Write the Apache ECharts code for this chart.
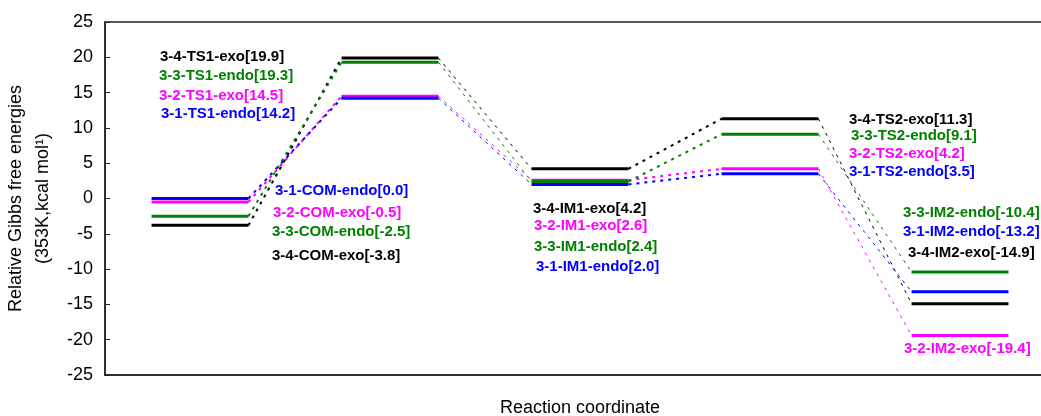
<!DOCTYPE html>
<html>
<head>
<meta charset="utf-8">
<script src="https://cdn.jsdelivr.net/npm/echarts@6/dist/echarts.min.js"></script>
<style>
html,body{margin:0;padding:0;background:#fff;}
#chart{width:1041px;height:416px;}
</style>
</head>
<body>
<div id="chart"></div>
<script>
// 反应阶段
var stages = ['COM', 'TS1', 'IM1', 'TS2', 'IM2'];
var yTicks = [-25, -20, -15, -10, -5, 0, 5, 10, 15, 20, 25];

// 各体系的相对吉布斯自由能 (kcal/mol)
var s34exo  = [-3.8, 19.9, 4.2, 11.3, -14.9];
var s32exo  = [-0.5, 14.5, 2.6, 4.2, -19.4];
var s33endo = [-2.5, 19.3, 2.4, 9.1, -10.4];
var s31endo = [0.0, 14.2, 2.0, 3.5, -13.2];

var seriesNames = ['3-4', '3-2', '3-3', '3-1'];
var isomers = ['exo', 'exo', 'endo', 'endo'];
var seriesVals = [s34exo, s32exo, s33endo, s31endo];
var colors = ['#000000', '#ff00ff', '#008000', '#0000ff'];

// 标签位置（像素，左边缘 / 中线），按 stage -> series 顺序
var labelPos = [
	[[272,257],[273,214],[272,233],[275,192]],
	[[160,58],[159,97],[159,77],[161,115]],
	[[533,210],[534,227],[534,248],[536,268]],
	[[849,121],[849,155],[851,137],[849,173]],
	[[908,254],[904,350],[903,214],[903,233]]
];
var connWidth = [2, 1, 2, 1];
var halfW = 0.255;

var myChart = echarts.init(document.getElementById('chart'));

function levelRender(params, api){
	var s = api.value(0), v = api.value(1);
	var p1 = api.coord([s - halfW, v]);
	var p2 = api.coord([s + halfW, v]);
	return {
		type:'line',
		shape:{x1:p1[0], y1:p1[1], x2:p2[0], y2:p2[1]},
		style:{stroke:api.visual('color'), lineWidth:3}
	};
}
function connRender(params, api){
	var s = api.value(0), v = api.value(1), nv = api.value(2);
	var p1 = api.coord([s + halfW, v]);
	var p2 = api.coord([s + 1 - halfW, nv]);
	return {
		type:'line',
		shape:{x1:p1[0], y1:p1[1], x2:p2[0], y2:p2[1]},
		style:{stroke:api.visual('color'), lineWidth:connWidth[s], lineDash:[3,5]}
	};
}

var series = [];
var graphics = [];
for(var i=0;i<seriesVals.length;i++){
	var vals = seriesVals[i];
	var lv = [], cn = [];
	for(var k=0;k<vals.length;k++){
		lv.push([k, vals[k]]);
		if(k < vals.length-1){
			cn.push([k, vals[k], vals[k+1]]);
		}
		graphics.push({
			type:'text',
			left:labelPos[k][i][0],
			top:labelPos[k][i][1]-9,
			style:{
				text:seriesNames[i]+'-'+stages[k]+'-'+isomers[i]+'['+vals[k].toFixed(1)+']',
				fill:colors[i],
				font:'bold 15px "Liberation Sans", Arial, sans-serif'
			}
		});
	}
	series.push({
		type:'custom', name:seriesNames[i]+'-conn', renderItem:connRender,
		data:cn, itemStyle:{color:colors[i]}, silent:true, z:2
	});
	series.push({
		type:'custom', name:seriesNames[i], renderItem:levelRender,
		data:lv, itemStyle:{color:colors[i]}, silent:true, z:3
	});
}

var options = {
	animation:false,
	grid:{left:105, right:-14, top:22, bottom:41, outerBoundsMode:'none', containLabel:false,
		show:true, borderColor:'#222', borderWidth:1.5},
	xAxis:{
		type:'value', min:-0.5, max:4.5,
		name:'Reaction coordinate', nameLocation:'middle', nameGap:24,
		nameTextStyle:{fontSize:18, color:'#000', fontFamily:'"Liberation Sans", Arial'},
		axisLine:{show:true, onZero:false, lineStyle:{color:'#222', width:1.5}},
		axisTick:{show:false}, axisLabel:{show:false}, splitLine:{show:false}
	},
	yAxis:{
		type:'value', min:yTicks[0], max:yTicks[yTicks.length-1], interval:5,
		name:'Relative Gibbs free energies\n(353K,kcal mol\u00b9)',
		nameLocation:'middle', nameGap:45, nameRotate:90,
		nameTextStyle:{fontSize:18, lineHeight:27, color:'#000', fontFamily:'"Liberation Sans", Arial'},
		axisLine:{show:true, onZero:false, lineStyle:{color:'#222', width:1.5}},
		axisTick:{show:true, inside:true, length:5, lineStyle:{color:'#222'}},
		axisLabel:{fontSize:18, color:'#000', margin:12, fontFamily:'"Liberation Sans", Arial'},
		splitLine:{show:false}
	},
	series:series,
	graphic:graphics
};
myChart.setOption(options);
</script>
</body>
</html>
